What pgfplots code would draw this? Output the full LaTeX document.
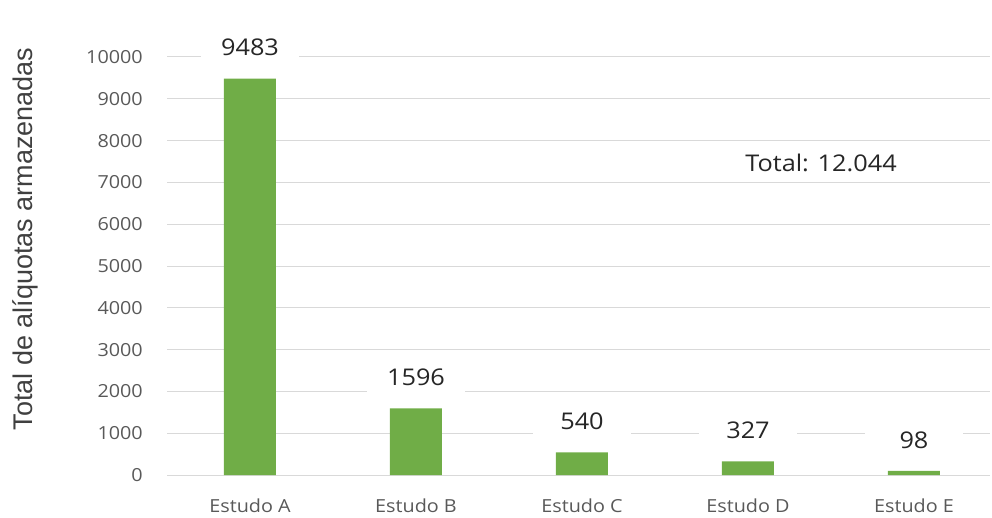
\documentclass[border=0pt]{standalone}
\usepackage{fontspec}
\usepackage{pgfplots}
\pgfplotsset{compat=1.18}
\setmainfont{Open Sans}
\newfontfamily\tickfont[FakeStretch=1.1]{Open Sans}
\newfontfamily\labfont{Liberation Sans}
\definecolor{bargreen}{HTML}{70AD47}
\definecolor{gridgray}{HTML}{D9D9D9}
\definecolor{tickgray}{HTML}{595959}
\definecolor{labdark}{HTML}{262626}
\definecolor{ylabgray}{HTML}{404040}

\begin{document}
\begin{tikzpicture}[x=1pt,y=1pt]
\useasboundingbox (0,0) rectangle (992,517);
\begin{axis}[
  at={(167pt,42pt)}, anchor=south west,
  scale only axis, width=823pt, height=418pt,
  clip=false,
  xmin=-0.5, xmax=4.458,
  ymin=0, ymax=10000,
  ytick={0,1000,...,10000},
  xtick={0,1,2,3,4},
  xticklabels={Estudo A,Estudo B,Estudo C,Estudo D,Estudo E},
  scaled y ticks=false,
  /pgf/number format/.cd, fixed, precision=0, 1000 sep={}, assume math mode=true,
  /pgfplots/.cd,
  axis line style={draw=none},
  major tick length=0pt,
  ymajorgrids, grid style={gridgray, line width=1pt},
  yticklabel style={font=\tickfont\fontsize{18}{20}\selectfont, text=tickgray,
    anchor=east, inner sep=0pt, xshift=-24pt},
  xticklabel style={font=\tickfont\fontsize{18}{20}\selectfont, text=tickgray,
    anchor=base, inner sep=0pt, yshift=-37pt},
  ylabel={Total de alíquotas armazenadas},
  every axis y label/.style={at={(-142pt,236pt)}, rotate=90, anchor=center,
    font=\labfont\fontsize{27}{29}\selectfont, text=ylabgray},
]
\addplot[ybar, bar width=52pt, fill=bargreen, draw=none,
  nodes near coords,
  every node near coord/.append style={font=\tickfont\fontsize{23}{25}\selectfont,
    text=labdark, fill=white, minimum width=98pt, minimum height=44pt,
    anchor=center, yshift=31pt}]
  coordinates {(0,9483) (1,1596) (2,540) (3,327) (4,98)};
\node[font=\tickfont\fontsize{23}{25}\selectfont, text=labdark]
  at (axis cs:3.44,7464) {Total: 12.044};
\end{axis}
\end{tikzpicture}
\end{document}
